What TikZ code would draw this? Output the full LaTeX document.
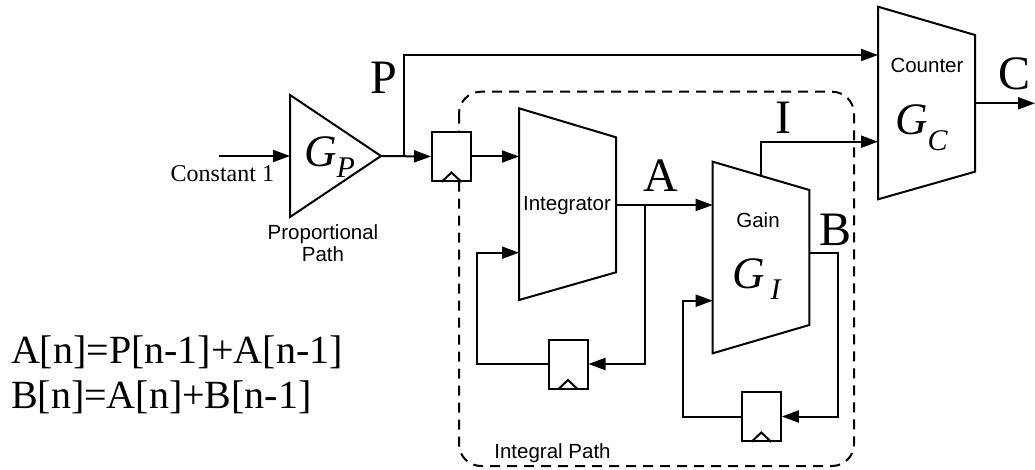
\documentclass[tikz,border=0pt]{standalone}
\usepackage{fontspec}
\setmainfont{Liberation Serif}
\setsansfont{Liberation Sans}
\usetikzlibrary{arrows.meta}
\newcommand\myfs[1]{\fontsize{#1}{#1}\selectfont}
\begin{document}
\begin{tikzpicture}[x=1pt,y=-1pt,line width=2pt,
  wire/.style={line width=2pt},
  arr/.style={wire,-{Triangle[length=17pt,width=12pt]}},
  blk/.style={draw,line width=2pt,fill=white},
  reg/.style={draw,line width=2pt,fill=white,minimum width=39pt,minimum height=49pt,inner sep=0pt},
  txt/.style={inner sep=0pt,anchor=base},
  sans/.style={txt,font=\sffamily\myfs{20.5}},
  big/.style={txt,font=\myfs{48}},
  gsym/.style={txt,anchor=base west,font=\itshape\myfs{45}},
  ibox/.style={draw,line width=2pt,dash pattern=on 10pt off 7pt,rounded corners=22pt}]
\useasboundingbox (0,0) rectangle (1035,470);

% integral path dashed box
\draw[ibox] (459,91.7) rectangle (854,466);

% proportional gain triangle
\draw[blk] (290,95) coordinate (gp-top) -- (381,156) coordinate (gp-out) -- (290,217) -- cycle;
\coordinate (gp-in) at (290,156);
\coordinate (cin) at (219,156);
\node[gsym] (gp) at (303,167) {G\raisebox{-11pt}{\myfs{30}P}};

% registers
\node[reg] (r1) at (451.5,156.5) {};
\node[reg] (r2) at (568,364) {};
\node[reg] (r3) at (761.3,416.5) {};
\foreach \r in {r1,r2,r3}{
  \draw[line join=miter] (\r.south) ++(-10,0) -- ++(10,-9.5) -- ++(10,9.5);
}

% integrator
\draw[blk] (519,108.3) -- (616,137.3) -- (616,272.3) -- (519,300) -- cycle;
\coordinate (int-a) at (519,156.5);
\coordinate (int-b) at (519,252.7);
\coordinate (int-out) at (616,205);
\node[sans] (integ) at (567,210.7) {Integrator};

% gain
\draw[blk] (712.7,161.7) -- (809.3,190) -- (809.3,325) -- (712.7,353.3) -- cycle;
\coordinate (gain-a) at (712.7,205);
\coordinate (gain-b) at (712.7,300.7);
\coordinate (gain-out) at (809.3,252.7);
\coordinate (gain-top) at (761,175.8);
\node[sans] (gainl) at (758,227.7) {Gain};
\node[gsym] (gi) at (731,288) {G\hspace{6pt}\raisebox{-11pt}{\myfs{30}I}};

% counter
\draw[blk] (878,6.7) -- (975,35) -- (975,171.7) -- (878,199.3) -- cycle;
\coordinate (cnt-p) at (878,55);
\coordinate (cnt-i) at (878,141.7);
\coordinate (cnt-out) at (975,103.3);
\coordinate (cout) at (1035,103.3);
\node[sans] (cntl) at (927,72.7) {Counter};
\node[gsym] (gc) at (894,135) {G\raisebox{-16pt}{\myfs{30}C}};

% junctions / corners
\coordinate (jP) at (404,156);
\coordinate (jA) at (645,205);
\coordinate (jB) at (838.3,252.7);

% connectors
\draw[arr] (cin) -- (gp-in);
\draw[arr] (gp-out) -- (r1.west);
\draw[arr] (jP) |- (cnt-p);
\draw[arr] (r1.east) -- (int-a);
\draw[arr] (int-out) -- (gain-a);
\draw[arr] (jA) |- (r2.east);
\draw[arr] (r2.west) -| (476.7,300) |- (int-b);
\draw[arr] (gain-out) -| (jB) |- (r3.east);
\draw[arr] (r3.west) -| (683.3,330) |- (gain-b);
\draw[arr] (gain-top) |- (cnt-i);
\draw[arr] (cnt-out) -- (cout);

% labels
\node[txt,font=\myfs{24},anchor=base east] (const) at (275,182) {Constant 1};
\node[sans] (ppath1) at (323,239.3) {Proportional};
\node[sans] (ppath2) at (323,261.7) {Path};
\node[big] (lP) at (384,94) {P};
\node[big] (lA) at (661,192) {A};
\node[big] (lB) at (835,245) {B};
\node[big] (lC) at (1014,90) {C};
\node[big] (lI) at (783,133.3) {I};
\node[sans] (ipath) at (552.5,458.3) {Integral Path};

% equations
\node[txt,anchor=base west,font=\myfs{40}] (eq1) at (10,363) {A[n]=P[n-1]+A[n-1]};
\node[txt,anchor=base west,font=\myfs{40}] (eq2) at (10,408) {B[n]=A[n]+B[n-1]};
\end{tikzpicture}
\end{document}
